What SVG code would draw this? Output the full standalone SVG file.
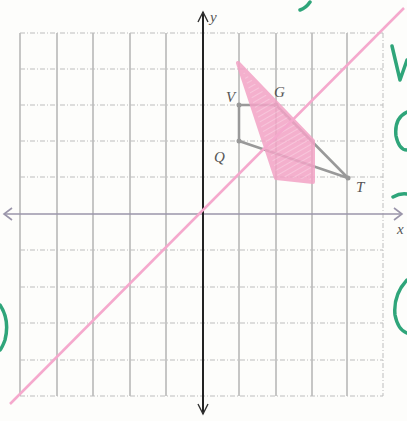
<svg xmlns="http://www.w3.org/2000/svg" width="407" height="421" viewBox="0 0 407 421">
<defs>
<style>
.vg{stroke:#9a9a9a;stroke-width:1.1;fill:none}
.hg{stroke:#bdbdbd;stroke-width:1;stroke-dasharray:5 2 1 2;fill:none}
.lbl{font-family:"Liberation Serif",serif;font-style:italic;font-size:15px;fill:#555}
.grn{stroke:#2fa57a;stroke-width:3.5;fill:none;stroke-linecap:round;stroke-linejoin:round}
.ax{stroke:#9a95aa;stroke-width:1.6;fill:none}
</style>
<pattern id="hatch" width="5" height="5" patternUnits="userSpaceOnUse" patternTransform="rotate(60)">
<rect width="5" height="5" fill="#f3a3c6"/>
<line x1="0" y1="0" x2="0" y2="5" stroke="#f8c6dc" stroke-width="1.5"/>
</pattern>
</defs>
<rect width="407" height="421" fill="#fdfdfb"/>
<g id="grid">
<path class="vg" d="M20 33V396M57 33V396M93 33V396M130 33V396M166 33V396M239 33V396M276 33V396M312 33V396M347 33V396"/>
<path class="hg" d="M383 33V396"/>
<path class="hg" d="M20 33H383M20 69H383M20 105H383M20 141H383M20 177H383M20 250H383M20 287H383M20 323H383M20 360H383M20 396H383"/>
</g>
<g id="axes">
<line x1="4" y1="214" x2="402" y2="214" class="ax"/>
<path class="ax" d="M12 208L4 214L12 220M394 208L402 214L394 220"/>
<line x1="203" y1="12" x2="203" y2="414" stroke="#222" stroke-width="2"/>
<path d="M198 22L203 12L208 22M198 404L203 414L208 404" stroke="#333" stroke-width="1.4" fill="none"/>
<text class="lbl" x="210" y="22" font-size="12">y</text>
<text class="lbl" x="397" y="234" font-size="12">x</text>
</g>
<g id="shape">
<polygon points="239,105 276,105 348,178 239,141" fill="none" stroke="#999" stroke-width="2.5" stroke-linejoin="round"/>
<circle cx="239" cy="105" r="2.5" fill="#999"/>
<circle cx="276" cy="105" r="2.5" fill="#999"/>
<circle cx="348" cy="178" r="2.5" fill="#999"/>
<circle cx="239" cy="141" r="2.5" fill="#999"/>
<text class="lbl" x="226" y="102">V</text>
<text class="lbl" x="274" y="97">G</text>
<text class="lbl" x="214" y="162">Q</text>
<text class="lbl" x="356" y="192">T</text>
</g>
<g id="image-shape">
<polygon points="238,63 313,141 313,182 276,178" fill="url(#hatch)" stroke="#f3a3c6" stroke-width="4" stroke-linejoin="round" opacity="0.85"/>
</g>
<g id="connectors">
<line x1="10" y1="404" x2="404" y2="8" stroke="#f5a9cd" stroke-width="2.5"/>
</g>
<g id="marks">
<path class="grn" d="M300 10Q306 8 310 2"/>
<path class="grn" d="M392 46L400 80L407 60"/>
<path class="grn" d="M407 112Q394 118 396 136Q399 150 407 150"/>
<path class="grn" d="M393 197Q400 193 407 194"/>
<path class="grn" d="M407 280Q393 295 395 315Q398 330 407 333"/>
<path class="grn" d="M0 305Q10 320 5 340Q2 348 0 350"/>
</g>
</svg>
